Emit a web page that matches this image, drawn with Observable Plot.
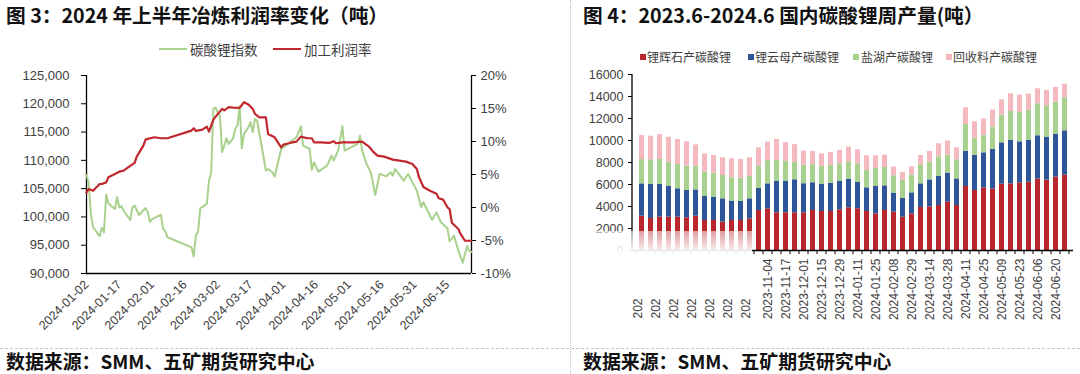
<!DOCTYPE html>
<html><head><meta charset="utf-8">
<script src="https://cdn.jsdelivr.net/npm/d3@7"></script>
<script src="https://cdn.jsdelivr.net/npm/@observablehq/plot@0.6"></script>
<style>
body{margin:0;background:#fff;}
#root{position:relative;width:1080px;height:374px;overflow:hidden;background:#fff;font-family:"Noto Sans CJK SC","Noto Sans",sans-serif;}
.title{position:absolute;top:0;font-size:19.7px;font-weight:bold;color:#111;white-space:nowrap;line-height:29px;}
.source{position:absolute;top:349px;font-size:18.9px;font-weight:bold;color:#111;white-space:nowrap;line-height:24px;}
.leg{position:absolute;color:#404040;white-space:nowrap;line-height:16px;}
.sw-line{position:absolute;height:2px;}
.sw-sq{position:absolute;width:6px;height:6px;}
.panel{position:absolute;top:62px;}
#vsep{position:absolute;left:570px;top:0;height:374px;border-left:1px dotted #bdbdbd;}
#hsep{position:absolute;left:0;top:348px;width:1080px;border-top:1px dashed #c4c4c4;}
#blur{position:absolute;left:588px;top:231px;width:164px;height:66px;
 background:linear-gradient(to bottom,rgba(255,255,255,0.55) 0%,rgba(255,255,255,0.92) 30%,rgba(255,255,255,0.97) 100%);}
</style></head>
<body><div id="root"></div>
<script>
// ---------- Figure 3 data ----------
const indexDates = ["2024-01-02","2024-01-03","2024-01-04","2024-01-05","2024-01-08","2024-01-09","2024-01-10","2024-01-11","2024-01-12","2024-01-14","2024-01-15","2024-01-16","2024-01-17","2024-01-18","2024-01-19","2024-01-22","2024-01-23","2024-01-24","2024-01-26","2024-01-29","2024-01-30","2024-01-31",
"2024-02-01","2024-02-05","2024-02-06","2024-02-07","2024-02-08","2024-02-19","2024-02-20","2024-02-21","2024-02-22","2024-02-23","2024-02-26","2024-02-27","2024-02-28","2024-02-29",
"2024-03-01","2024-03-02","2024-03-03","2024-03-04","2024-03-06","2024-03-07","2024-03-09","2024-03-10","2024-03-11","2024-03-12","2024-03-13","2024-03-14","2024-03-16","2024-03-17","2024-03-18","2024-03-19","2024-03-20","2024-03-24","2024-03-25","2024-03-27","2024-03-28","2024-03-31",
"2024-04-02","2024-04-07","2024-04-09","2024-04-10","2024-04-13","2024-04-14","2024-04-15","2024-04-17","2024-04-21","2024-04-23","2024-04-24","2024-04-26","2024-04-28","2024-04-29",
"2024-05-05","2024-05-06","2024-05-07","2024-05-09","2024-05-11","2024-05-13","2024-05-15","2024-05-18","2024-05-20","2024-05-21","2024-05-22","2024-05-26","2024-05-28",
"2024-06-01","2024-06-03","2024-06-04","2024-06-08","2024-06-10","2024-06-12","2024-06-15","2024-06-16","2024-06-18","2024-06-20","2024-06-22","2024-06-24","2024-06-25","2024-06-26"];
const indexValues = [107400,106000,100500,98200,96600,98100,97300,103900,102400,101700,101400,103500,101700,101900,101100,99450,101700,102000,100340,101570,100800,99160,
99600,100400,97900,97500,96400,94610,93020,96700,97350,101500,102300,106400,107900,119100,
119300,118500,117900,111430,113900,112900,113900,115560,116200,119570,112130,114680,115850,116730,114970,117330,117000,108200,108480,107900,107120,112020,
112610,114080,116030,112610,112020,108360,109660,108010,109070,110840,109960,111730,116030,111730,
112910,114380,111730,109370,107880,103880,107600,107180,107880,107300,108480,106420,107600,
104650,101690,102600,99500,100800,99040,98000,95700,96700,94000,91900,94900,94000,93800];

const profitDates = ["2024-01-02","2024-01-03","2024-01-05","2024-01-08","2024-01-09","2024-01-11","2024-01-12","2024-01-15","2024-01-17","2024-01-19","2024-01-21","2024-01-24","2024-01-25","2024-01-26","2024-01-28","2024-01-29","2024-01-30",
"2024-02-02","2024-02-05","2024-02-08","2024-02-19","2024-02-20","2024-02-21","2024-02-24","2024-02-26","2024-02-27","2024-02-29",
"2024-03-02","2024-03-04","2024-03-05","2024-03-07","2024-03-09","2024-03-12","2024-03-14","2024-03-16","2024-03-18","2024-03-19","2024-03-21","2024-03-24","2024-03-25","2024-03-28","2024-03-31",
"2024-04-01","2024-04-04","2024-04-07","2024-04-09","2024-04-12","2024-04-14","2024-04-15","2024-04-18","2024-04-22","2024-04-24","2024-04-25","2024-04-28",
"2024-05-03","2024-05-07","2024-05-10","2024-05-12","2024-05-14","2024-05-17","2024-05-21","2024-05-27","2024-05-30",
"2024-06-01","2024-06-02","2024-06-04","2024-06-07","2024-06-10","2024-06-11","2024-06-13","2024-06-15","2024-06-16","2024-06-17","2024-06-20","2024-06-21","2024-06-23","2024-06-26"];
const profitValues = [2.3,2.8,2.55,3.56,3.56,3.81,4.57,5.08,5.43,5.58,6.09,6.75,7.76,8.27,9.38,10.29,10.39,
10.64,10.49,10.49,11.65,12.0,11.6,11.8,12.26,11.5,13.32,
14.18,14.94,14.7,15.2,15.14,15.1,15.95,15.6,14.94,14.18,13.67,13.67,11.15,10.64,9.12,
9.53,9.78,9.98,10.74,10.49,10.49,9.88,9.88,9.78,10.04,9.73,9.88,
9.88,9.98,9.27,8.47,7.86,7.71,7.25,6.95,6.6,
5.84,4.6,3.1,2.55,2.1,1.4,1.2,0.03,-0.23,-2.3,-3.26,-4.0,-5.04,-5.04];

const leftTicks = [90000,95000,100000,105000,110000,115000,120000,125000];
const pctTicks = [-10,-5,0,5,10,15,20];
const xTickLabels = ["2024-01-02","2024-01-17","2024-02-01","2024-02-16","2024-03-02","2024-03-17","2024-04-01","2024-04-16","2024-05-01","2024-05-16","2024-05-31","2024-06-15"];
const xStart = "2024-01-02", xEnd = "2024-06-26";

// ---------- Figure 4 data ----------
const sourceNames = ["锂辉石产碳酸锂","锂云母产碳酸锂","盐湖产碳酸锂","回收料产碳酸锂"];
const spodumene = [3120,2910,3030,3030,3030,2970,3120,2730,2730,2580,2730,2730,2880,3640,3790,3430,3430,3430,3430,3640,3550,3550,3700,3880,3790,3550,3330,3640,3490,3030,3330,3910,3970,4090,4400,4090,5820,5460,5700,5580,6030,6060,6150,6210,6490,6400,6670,6850];
const lepidolite = [2940,3090,2970,2790,2580,2490,2390,2180,2120,2120,1760,1730,1820,2000,2270,2880,2880,3000,2640,2520,2450,2550,2610,2610,2390,2150,2490,2240,1730,1700,1910,2150,2450,2640,2640,2420,3180,3180,3180,3610,3760,3940,3730,3790,3940,3910,3880,4030];
const saltLake = [2210,2240,2270,2210,2210,2210,2150,2210,2180,2120,2120,2120,2030,2000,2120,1880,1790,1610,1670,1640,1640,1640,1580,1580,1700,1610,1640,1670,1580,1670,1600,1730,1610,1790,1640,1730,2450,1580,1580,2030,2520,2640,2670,2730,2910,2850,2940,3000];
const recycled = [2180,2150,2270,2270,2270,2210,1940,1670,1610,1610,1730,1700,1700,1700,1670,1910,1700,1580,1300,1210,1150,1180,1210,1330,1270,1300,1150,1120,790,700,760,850,970,1180,1270,1090,1520,1490,1490,1550,1390,1610,1580,1490,1360,1390,1330,1240];
const weekLabels = ["202","202","202","202","202","202","202","2023-11-04","2023-11-17","2023-12-01","2023-12-15","2023-12-29","2024-01-11","2024-01-25","2024-02-08","2024-02-29","2024-03-14","2024-03-28","2024-04-11","2024-04-25","2024-05-09","2024-05-23","2024-06-06","2024-06-20"];
const barYTicks = [0,2000,4000,6000,8000,10000,12000,14000,16000];

// ---------- styles ----------
const RED = "#C0282E", GREEN = "#A9D18E";
const barColors = ["#B9272D","#2E5597","#A9D18E","#F4B9BF"];
const axisStyle = {fontFamily:"'Liberation Sans',Arial,'Noto Sans CJK SC',sans-serif", fontSize:"13px", color:"#404040", background:"transparent", overflow:"visible"};

const root = document.getElementById("root");
function add(html){ root.insertAdjacentHTML("beforeend", html); }

add('<div id="vsep"></div><div id="hsep"></div>');
add('<div class="title" style="left:6px">图 3：2024 年上半年冶炼利润率变化（吨）</div>');
add('<div class="title" style="left:583px">图 4：2023.6-2024.6 国内碳酸锂周产量(吨）</div>');
add('<div class="source" style="left:6px">数据来源：SMM、五矿期货研究中心</div>');
add('<div class="source" style="left:583px">数据来源：SMM、五矿期货研究中心</div>');

// legends
add(`<div class="sw-line" style="left:159px;top:48px;width:28px;background:${GREEN}"></div>
<div class="leg" style="left:190px;top:41px;font-size:13.5px">碳酸锂指数</div>
<div class="sw-line" style="left:273px;top:48px;width:28px;background:${RED}"></div>
<div class="leg" style="left:304px;top:41px;font-size:13.5px">加工利润率</div>`);
const legX = [[640,647],[748,755],[853,861],[946,953]];
sourceNames.forEach((n,k)=>{
  add(`<div class="sw-sq" style="left:${legX[k][0]}px;top:54px;background:${barColors[k]}"></div>
  <div class="leg" style="left:${legX[k][1]}px;top:49px;font-size:12px">${n}</div>`);
});

// ---------- Figure 3 ----------
const toIdx = p => 90000 + (p + 10) / 30 * 35000;
const indexRows = indexDates.map((d,i)=>({date:new Date(d), v:indexValues[i]}));
const profitRows = profitDates.map((d,i)=>({date:new Date(d), p:profitValues[i]}));

const left = Plot.plot({
  width:540, height:284, marginTop:13, marginBottom:73, marginLeft:86, marginRight:69,
  style: axisStyle,
  x:{type:"utc", domain:[new Date(xStart), new Date(xEnd)], label:null},
  y:{domain:[90000,125000], label:null},
  marks:[
    Plot.axisY(leftTicks, {anchor:"left", label:null, tickSize:5, tickPadding:12, tickFormat:d3.format(","), fontSize:13, color:"#404040", stroke:"#000"}),
    Plot.axisY(pctTicks.map(toIdx), {anchor:"right", label:null, tickSize:4, tickPadding:5, fontSize:13, color:"#404040", stroke:"#000",
      tickFormat: v => Math.round((v-90000)/35000*30-10) + "%"}),
    Plot.axisX(xTickLabels.map(d=>new Date(d)), {label:null, tickSize:0, tickPadding:9, tickRotate:-45, fontSize:12.5, color:"#404040", tickFormat:d3.utcFormat("%Y-%m-%d")}),
    Plot.ruleX([new Date(xStart), new Date(xEnd)], {stroke:"#000", strokeWidth:1.3}),
    Plot.ruleY([90000], {stroke:"#000", strokeWidth:1.3}),
    Plot.lineY(indexRows, {x:"date", y:"v", stroke:GREEN, strokeWidth:2}),
    Plot.lineY(profitRows, {x:"date", y:d=>toIdx(d.p), stroke:RED, strokeWidth:2.2})
  ]
});
const lp = document.createElement("div"); lp.className="panel"; lp.style.left="0px"; lp.appendChild(left); root.appendChild(lp);

// ---------- Figure 4 ----------
const n = spodumene.length;
const seriesArr = [spodumene, lepidolite, saltLake, recycled];
const barRows = [];
for (let i=0;i<n;i++) seriesArr.forEach((s,k)=>barRows.push({i, source:sourceNames[k], value:s[i]}));
const labeledIdx = d3.range(0,n,2).filter(i => weekLabels[i/2] !== "202");
const truncIdx = d3.range(0,n,2).filter(i => weekLabels[i/2] === "202");

function extras(index, scales, values, dims){
  const g = d3.create("svg:g").attr("stroke","#000");
  const x = scales.x, yb = dims.height - dims.marginBottom;
  g.append("line").attr("x1",dims.marginLeft).attr("x2",dims.marginLeft).attr("y1",dims.marginTop).attr("y2",yb).attr("stroke-width",1.3);
  const step = x.step(), bw = x.bandwidth();
  const bounds = d3.range(n).map(i => x(i) + bw/2 - step/2).concat([x(n-1) + bw/2 + step/2]);
  for (const b of bounds) g.append("line").attr("x1",b).attr("x2",b).attr("y1",yb).attr("y2",yb+4);
  return g.node();
}

const right = Plot.plot({
  width:508, height:284, marginTop:12, marginBottom:96, marginLeft:60, marginRight:7,
  style: axisStyle,
  x:{type:"band", domain:d3.range(n), paddingInner:0.5, paddingOuter:0.25, label:null},
  y:{domain:[0,16000], label:null},
  color:{domain:sourceNames, range:barColors},
  marks:[
    Plot.barY(barRows, {x:"i", y:"value", fill:"source"}),
    Plot.ruleY([0], {stroke:"#000", strokeWidth:1.5}),
    extras,
    Plot.axisY(barYTicks, {anchor:"left", label:null, tickSize:4, tickPadding:5, fontSize:12.5, color:"#404040", stroke:"#000", tickFormat:d=>String(d)}),
    Plot.axisX(labeledIdx, {label:null, tickSize:0, tickPadding:8, tickRotate:-90, fontSize:12, color:"#404040", tickFormat:i=>weekLabels[i/2]}),
    Plot.text(truncIdx, {x:d=>d, frameAnchor:"bottom", text:i=>weekLabels[i/2], rotate:-90, textAnchor:"start", dy:68, fontSize:12, fill:"#404040"})
  ]
});
const rp = document.createElement("div"); rp.className="panel"; rp.style.left="572px"; rp.appendChild(right); root.appendChild(rp);
add('<div id="blur"></div>');
</script>
</body></html>
